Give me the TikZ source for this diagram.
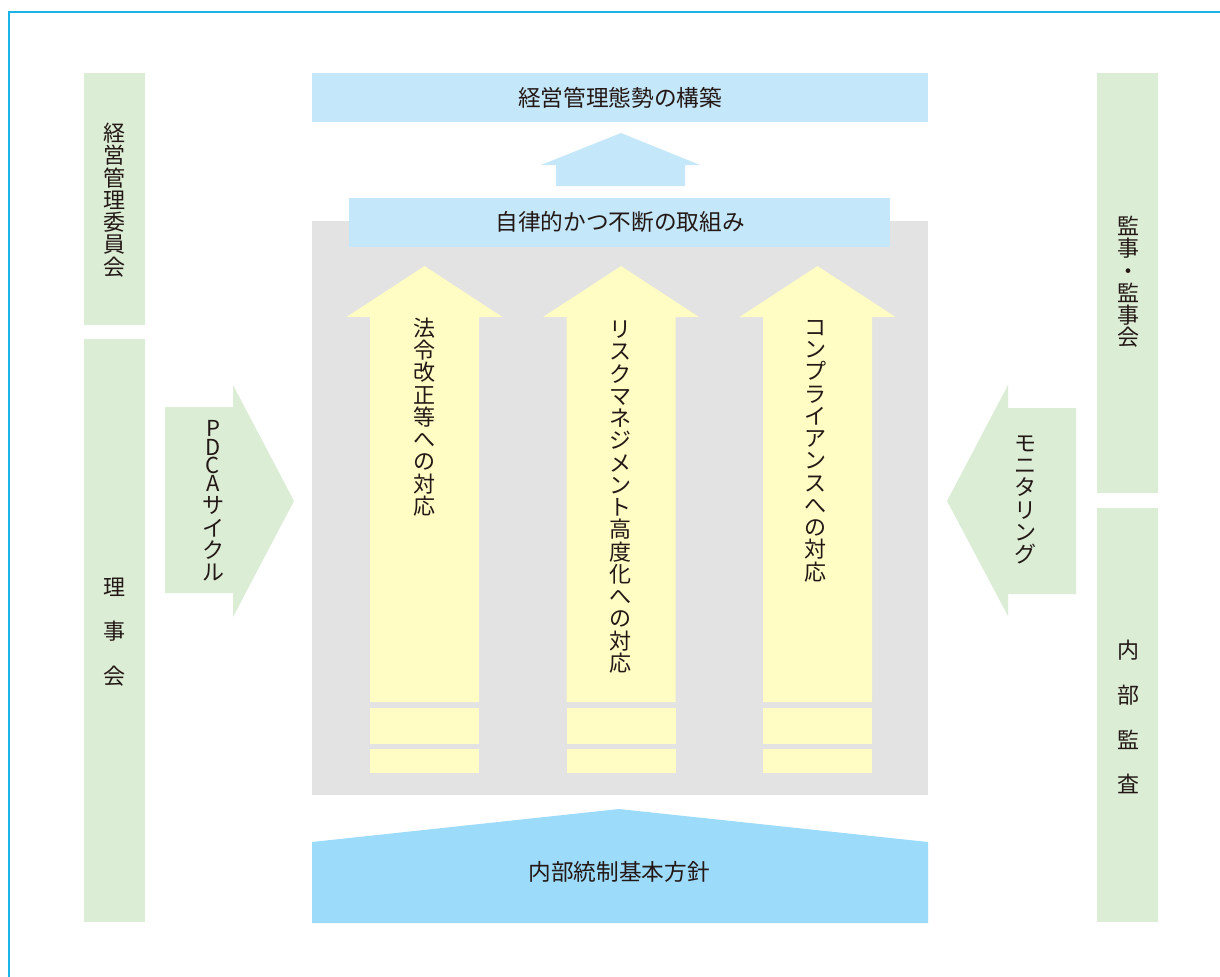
\documentclass[tikz,border=0pt]{standalone}
\usepackage{fontspec}
\setmainfont{Noto Sans CJK JP}
\definecolor{frameblue}{HTML}{1AB4E8}
\definecolor{palegreen}{HTML}{DCEDD6}
\definecolor{paleblue}{HTML}{C4E7FA}
\definecolor{deepblue}{HTML}{9DDBFA}
\definecolor{palegray}{HTML}{E3E3E3}
\definecolor{paleyellow}{HTML}{FFFCC4}
\definecolor{inkc}{HTML}{231815}
\tikzset{
  hlabel/.style={inner sep=0pt, text=inkc, font=\fontsize{17pt}{17pt}\selectfont},
  vlabel/.style={inner sep=0pt, align=center, text=inkc, font=\fontsize{16.5pt}{16.7pt}\selectfont},
  wlabel/.style={inner sep=0pt, align=center, text=inkc, font=\fontsize{16.5pt}{33.6pt}\selectfont},
}
\begin{document}
\begin{tikzpicture}[x=0.75pt,y=-0.75pt]
\useasboundingbox (0,0) rectangle (1220,976);
\fill[white] (0,0) rectangle (1220,976);
% frame
\draw[frameblue, line width=1.6pt] (9,980) -- (9,12) -- (1224,12);
% side boxes
\fill[palegreen] (84,73) rectangle (145,325);
\fill[palegreen] (84,339) rectangle (145,922);
\fill[palegreen] (1097,73) rectangle (1158,493);
\fill[palegreen] (1097,508) rectangle (1158,922);
% side arrows
\fill[palegreen] (165,407) -- (233,407) -- (233,385) -- (294,501) -- (233,617) -- (233,593) -- (165,593) -- cycle;
\fill[palegreen] (1076,408) -- (1008,408) -- (1008,385) -- (947,501) -- (1008,616) -- (1008,594) -- (1076,594) -- cycle;
% top box and arrow
\fill[paleblue] (312,73) rectangle (928,122);
\fill[paleblue] (621,133) -- (700,165) -- (685,165) -- (685,186) -- (556,186) -- (556,165) -- (541,165) -- cycle;
% gray panel
\fill[palegray] (312,221) rectangle (928,795);
\fill[paleblue] (349,198) rectangle (890,247);
% yellow arrows and slabs
\foreach \c in {424.5,621,817.5}{
  \fill[paleyellow] (\c,266) -- (\c+78,317) -- (\c+54.5,317) -- (\c+54.5,702) -- (\c-54.5,702) -- (\c-54.5,317) -- (\c-78,317) -- cycle;
  \fill[paleyellow] (\c-54.5,708) rectangle (\c+54.5,744);
  \fill[paleyellow] (\c-54.5,749) rectangle (\c+54.5,773);
}
% bottom pentagon
\fill[deepblue] (312,842) -- (619,809) -- (928,842) -- (928,923) -- (312,923) -- cycle;
% texts
\node[hlabel] (top) at (620,98) {経営管理態勢の構築};
\node[hlabel] (self) at (620,222) {自律的かつ不断の取組み};
\node[hlabel] (base) at (619,872) {内部統制基本方針};
\node[vlabel] (kanri) at (114,200) {経\\営\\管\\理\\委\\員\\会};
\node[wlabel] (riji) at (114,632) {理\\事\\会};
\node[vlabel] (kanji) at (1128,282) {監\\事\\・\\監\\事\\会};
\node[wlabel] (naibu) at (1128,717) {内\\部\\監\\査};
\node[vlabel] (pdca) at (213,501) {P\\[-3pt]D\\[-3pt]C\\[-3pt]A\\サ\\イ\\ク\\ル};
\node[vlabel] (moni) at (1025,500) {モ\\ニ\\タ\\リ\\ン\\グ};
\node[vlabel] (hou) at (424,417) {法\\令\\改\\正\\等\\へ\\の\\対\\応};
\node[vlabel] (risk) at (620,497) {リ\\ス\\ク\\マ\\ネ\\ジ\\メ\\ン\\ト\\高\\度\\化\\へ\\の\\対\\応};
\node[vlabel] (comp) at (815,451) {コ\\ン\\プ\\ラ\\イ\\ア\\ン\\ス\\へ\\の\\対\\応};
\end{tikzpicture}
\end{document}
